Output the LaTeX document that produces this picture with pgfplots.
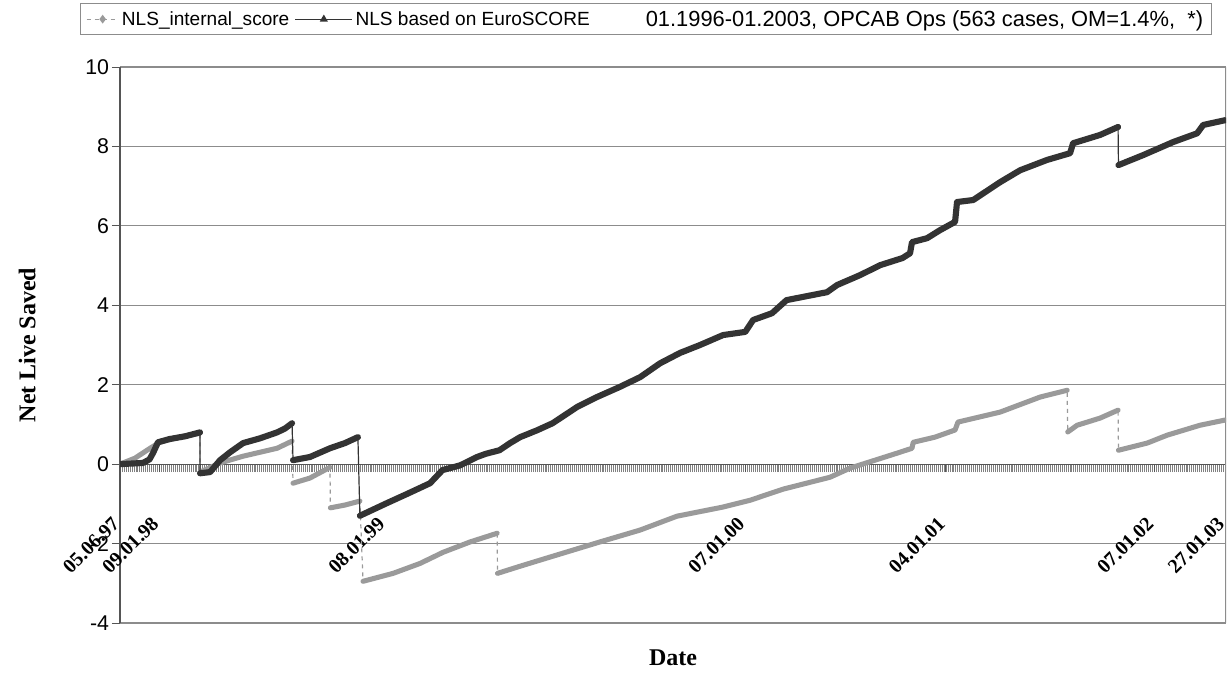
\documentclass[border=0pt]{standalone}
\usepackage{pgfplots}
\pgfplotsset{compat=1.18}
\usepackage{pgfplotstable}
\usepackage{fontspec}
\setmainfont{Liberation Sans}
\newfontfamily\tnr{Liberation Serif}
\definecolor{darkline}{HTML}{333333}
\definecolor{grayline}{HTML}{9A9A9A}
\definecolor{gridc}{HTML}{8C8C8C}
\definecolor{axisc}{HTML}{555555}

\pgfplotsset{
  shortleg/.style={legend image code/.code={\draw[##1, mark repeat=2, mark phase=2] plot coordinates {(0cm,0cm) (0.42cm,0cm) (0.84cm,0cm)};}},
  longleg/.style={legend image code/.code={\draw[##1, mark repeat=2, mark phase=2] plot coordinates {(0cm,0cm) (0.75cm,0cm) (1.5cm,0cm)};}},
}

% NLS based on EuroSCORE (x = case index)
\pgfplotstableread{
x y
0 0
11.7 0.03
15 0.12
16.8 0.28
19.3 0.55
25 0.63
33 0.7
40.7 0.8
40.7 nan
40.7 -0.23
45.8 -0.2
50.9 0.1
56 0.3
62.6 0.53
71.2 0.65
79.9 0.8
84 0.9
87.5 1.03
87.5 nan
88 0.1
96.6 0.18
106.8 0.4
114.4 0.53
121 0.68
121 nan
122 -1.3
135.8 -0.98
146 -0.75
157.7 -0.48
164 -0.15
173 -0.03
181.6 0.18
186 0.26
193 0.35
198.4 0.53
203.5 0.68
212 0.85
220 1.03
232.5 1.44
242.6 1.69
254 1.94
264.5 2.19
274.7 2.54
284.8 2.8
295 3.0
306.7 3.25
318 3.33
322 3.63
331.6 3.8
339 4.13
359.6 4.33
364.7 4.51
376.4 4.76
386.6 5.01
398 5.19
401.8 5.31
402.8 5.59
410.5 5.69
417 5.89
424.7 6.1
425.7 6.6
433.9 6.65
447.6 7.1
457.8 7.4
471.5 7.66
483.2 7.83
484.7 8.08
498.5 8.29
507.6 8.49
507.6 nan
507.8 7.53
520.3 7.78
535.6 8.11
547.8 8.33
550.9 8.54
562 8.66
}\darktab

% NLS_internal_score
\pgfplotstableread{
x y
0 0
7.6 0.15
15.3 0.4
20.3 0.55
30 0.68
40.7 0.78
40.7 nan
40.7 -0.2
50.9 0.03
62.6 0.2
79.9 0.4
87.5 0.58
87.5 nan
88 -0.48
96.6 -0.35
106.8 -0.08
106.8 nan
107 -1.1
114.4 -1.03
122 -0.93
122 nan
123.6 -2.95
138.9 -2.75
152.6 -2.5
164.3 -2.22
178 -1.96
191.8 -1.74
191.8 nan
192 -2.75
203.5 -2.57
218.7 -2.34
244 -1.96
264.5 -1.66
283.3 -1.31
306.7 -1.08
320.4 -0.91
337.2 -0.63
361.1 -0.33
371.3 -0.1
384 0.1
396.7 0.3
402.8 0.4
403.4 0.55
414.5 0.68
424.7 0.86
426.2 1.06
447.6 1.31
468 1.69
481.7 1.86
481.7 nan
482 0.81
486.8 0.98
498.5 1.16
507.6 1.36
507.6 nan
507.8 0.35
522.4 0.53
532.6 0.73
549.3 0.98
562 1.11
}\graytab

\begin{document}
\begin{tikzpicture}
\begin{axis}[
  at={(0,0)}, anchor=south west,
  scale only axis, width=829.5pt, height=417pt,
  xmin=0, xmax=562.5, ymin=-4, ymax=10,
  axis x line*=middle, axis y line*=left,
  hide obscured x ticks=false, hide obscured y ticks=false,
  axis line style={axisc, line width=0.8pt},
  ytick={-4,-2,0,2,4,6,8,10},
  yticklabels={-4,-2,0,2,4,6,8,10},
  yticklabel style={font=\fontsize{16}{16}\selectfont, inner sep=2pt},
  ymajorgrids, grid style={gridc, line width=0.8pt},
  xtick={0,20,135,318,420,526,562},
  xticklabels={05.06.97,09.01.98,08.01.99,07.01.00,04.01.01,07.01.02,27.01.03},
  minor xtick={0,1,...,562},
  xticklabel style={font=\tnr\bfseries\fontsize{15}{15}\selectfont, xshift=-3pt, yshift=-36pt, rotate=45, anchor=east, inner sep=0pt},
  tick align=outside,
  major tick length=6pt, minor tick length=6pt,
  every tick/.style={axisc, line width=0.6pt},
  every minor tick/.style={gray, line width=0.3pt},
  xlabel={\tnr\bfseries Date},
  xlabel style={font=\fontsize{18}{18}\selectfont, at={(axis description cs:0.5,-0.063)}, anchor=center},
  ylabel={\tnr\bfseries Net Live Saved},
  ylabel style={font=\fontsize{18}{18}\selectfont, at={(axis description cs:-0.084,0.5)}, anchor=center},
  unbounded coords=jump,
  legend columns=3,
  legend cell align=left,
  legend style={at={(axis description cs:-0.036,1.115)}, anchor=north west,
    draw=gridc, line width=0.8pt, font=\fontsize{14.3}{14.3}\selectfont,
    inner xsep=4pt, inner ysep=3pt,
    /tikz/every even column/.append style={column sep=2pt}},
]
\draw[gridc, line width=0.8pt] (rel axis cs:1,0) -- (rel axis cs:1,1);

\addlegendimage{shortleg, grayline, dashed, line width=1pt, mark=diamond*, mark size=2.5pt, mark options={solid}}
\addlegendentry{NLS\_internal\_score}
\addlegendimage{longleg, darkline, line width=1pt, mark=triangle*, mark size=2.5pt}
\addlegendentry{NLS based on EuroSCORE}
\addlegendimage{empty legend}
\addlegendentry{\hspace{36pt}\fontsize{16.4}{16.4}\selectfont 01.1996-01.2003, OPCAB Ops (563 cases, OM=1.4\%,~~*)}

% internal score: thin dashed connectors, thick band
\addplot[forget plot, grayline, dashed, line width=0.9pt, unbounded coords=discard] table {\graytab};
\addplot[forget plot, grayline, line width=3.8pt, line join=round, line cap=round] table {\graytab};
% EuroSCORE
\addplot[forget plot, darkline, line width=0.9pt, unbounded coords=discard] table {\darktab};
\addplot[forget plot, darkline, line width=4.6pt, line join=round, line cap=round] table {\darktab};

\coordinate (pa) at (rel axis cs:0,0);
\end{axis}
\pgfresetboundingbox
\path (pa) +(-90pt,-39pt) rectangle +(830.25pt,467.25pt);
\end{tikzpicture}
\end{document}
